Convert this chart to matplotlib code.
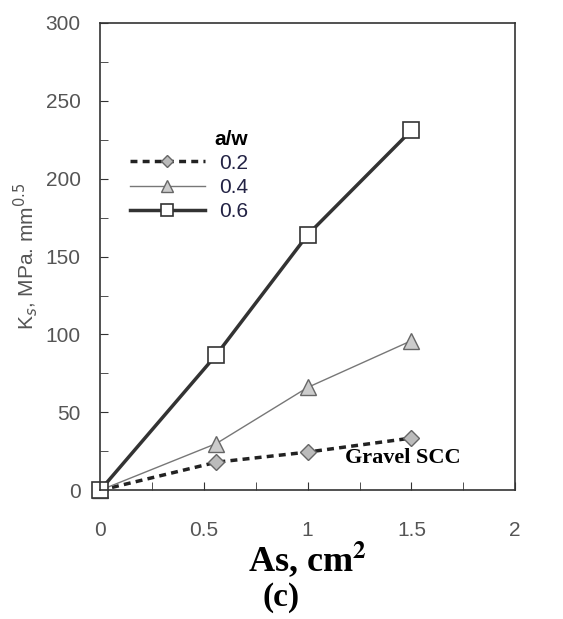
import matplotlib.pyplot as plt
from matplotlib.ticker import MultipleLocator

as_cm2 = [0, 0.56, 1.0, 1.5]
ks_02 = [0, 18, 24.5, 33.5]
ks_04 = [0, 30, 66, 96]
ks_06 = [0, 87, 164, 231]
labels = ["0.2", "0.4", "0.6"]

fig = plt.figure(figsize=(5.63, 6.19), dpi=100)
ax = fig.add_axes([0.178, 0.208, 0.737, 0.755])

gray = "#555555"
ax.plot(as_cm2, ks_02, linestyle=(0, (2, 1.5)), color="#222222", lw=2.5,
        marker="D", ms=8, mfc="#bbbbbb", mec="#666666", label=labels[0])
ax.plot(as_cm2, ks_04, linestyle="-", color="#777777", lw=1,
        marker="^", ms=11, mfc="#cccccc", mec="#666666", label=labels[1])
ax.plot(as_cm2, ks_06, linestyle="-", color="#333333", lw=2.5,
        marker="s", ms=11, mfc="white", mec="#333333", mew=1.2, label=labels[2])

ax.set_xlim(0, 2)
ax.set_ylim(0, 300)
ax.xaxis.set_minor_locator(MultipleLocator(0.25))
ax.yaxis.set_minor_locator(MultipleLocator(25))
ax.tick_params(which="both", direction="in", top=False, right=False,
               labelsize=15, labelcolor=gray, color="#333333", length=6)
ax.tick_params(axis="x", pad=22)
ax.tick_params(axis="y", pad=14)
ax.set_xticks([0, 0.5, 1, 1.5, 2])
ax.set_xticklabels(["0", "0.5", "1", "1.5", "2"], family="Liberation Sans")
ax.set_yticks([0, 50, 100, 150, 200, 250, 300])
ax.set_yticklabels(["0", "50", "100", "150", "200", "250", "300"], family="Liberation Sans")
for line in ax.lines:
    line.set_clip_on(False)
for sp in ax.spines.values():
    sp.set_color("#333333")
    sp.set_linewidth(1.2)

ax.set_ylabel(r"K$_s$, MPa. mm$^{0.5}$", fontsize=15, color=gray,
              family="Liberation Sans", math_fontfamily="dejavusans", labelpad=4)
ax.set_xlabel(r"As, cm$^\mathbf{2}$", fontsize=26, fontweight="bold",
              family="Liberation Serif", math_fontfamily="stix", labelpad=0)
fig.text(0.5, 0.035, "(c)", fontsize=24, fontweight="bold",
         family="Liberation Serif", ha="center", va="center")

ax.text(1.46, 21, "Gravel SCC", fontsize=16, fontweight="bold",
        family="Liberation Serif", ha="center", va="center")

leg = ax.legend(loc="upper left", bbox_to_anchor=(0.026, 0.812), frameon=False,
                title="a/w", handlelength=3.6, labelspacing=0.25, markerscale=0.8,
                handletextpad=0.7, alignment="right",
                prop={"family": "Liberation Sans", "size": 15})
leg.get_title().set_fontweight("bold")
leg.get_title().set_fontsize(15)
leg.get_title().set_family("Liberation Sans")
for t in leg.get_texts():
    t.set_color("#222244")

fig.savefig("out.png", dpi=100)
